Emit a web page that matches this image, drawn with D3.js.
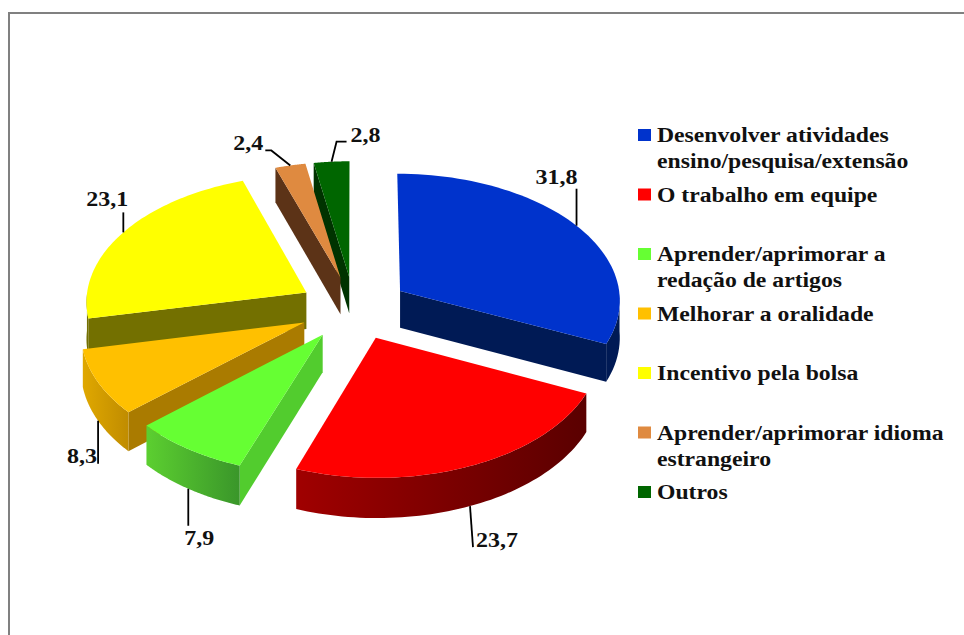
<!DOCTYPE html>
<html><head><meta charset="utf-8">
<script src="https://cdnjs.cloudflare.com/ajax/libs/d3/7.8.5/d3.min.js"></script>
<style>html,body{margin:0;padding:0;background:#fff}svg{display:block}
text{font-family:"Liberation Serif",serif;font-weight:bold;fill:#111}</style>
</head><body><svg id="c" width="964" height="635"></svg>
<script>
// Data
const categories = ["Desenvolver atividades\nensino/pesquisa/extensão","O trabalho em equipe","Aprender/aprimorar a\nredação de artigos","Melhorar a oralidade","Incentivo pela bolsa","Aprender/aprimorar idioma\nestrangeiro","Outros"];
const values = [31.8,23.7,7.9,8.3,23.1,2.4,2.8];
const valueLabels = ["31,8","23,7","7,9","8,3","23,1","2,4","2,8"];
// Styling
const topColors = ["#0033CC","#FF0000","#66FF33","#FFC000","#FFFF00","#DF8A40","#006600"];
const wallColors = ["#001A55","#660000","#52CC2E","#AA7B00","#737000","#5C3317","#003300"];
const rimLight = ["#001A55","#A00000","#5CCF30","#E0A800","#737000","#5C3317","#003300"];
const rimDark = ["#001A55","#5A0000","#3A962A","#C08C00","#737000","#5C3317","#003300"];
const explode = 0.25;
const leaderOffsets = [[[0,-37]],[[3,41]],[[0,37]],[[0,43]],[[0,-20]],[[-19,-15],[-25,-15]],[[5,-20],[15,-20]]];
const labelOffsets = [[-20,-5],[24,0],[11,19],[-16,-1],[-16,-6],[-17,0],[19,0]];

const svg = d3.select("#c");
// frame
svg.append("rect").attr("x",9).attr("y",13).attr("width",1000).attr("height",700).attr("fill","#fff").attr("stroke","#808080").attr("stroke-width",2);

// 3D projection
const cx=354, cy=308, R=221, K=127, P=0.065, depth=37;
const persp = v => 1/(1-P*v);
const project = (u,v,z=0) => { const s=persp(v); return [cx+R*u*s, cy+K*v*s+z*s]; };
const dirOf = a => [Math.sin(a),-Math.cos(a)];
const pie = d3.pie().sort(null).startAngle(0).endAngle(2*Math.PI);
const arcs = pie(values);
const line = d3.line();
const defs = svg.append("defs");

const slices = arcs.map((a,i)=>{
  const mid=(a.startAngle+a.endAngle)/2, d=dirOf(mid);
  const ox=d[0]*explode, oy=d[1]*explode;
  const pt=(ang,r,z)=>{const e=dirOf(ang);return project(ox+e[0]*r,oy+e[1]*r,z?depth:0);};
  return {i,a,mid,pt};
});
slices.sort((p,q)=>(-Math.cos(p.mid))-(-Math.cos(q.mid)));

slices.forEach(s=>{
  const {i,a,pt}=s; const n=60;
  const angs=d3.range(n+1).map(t=>a.startAngle+(a.endAngle-a.startAngle)*t/n);
  const g=svg.append("g");
  // radial walls
  const wall=(ang)=>g.append("path").attr("d",line([pt(ang,0,0),pt(ang,1,0),pt(ang,1,1),pt(ang,0,1)])+"Z").attr("fill",wallColors[i]);
  if(Math.sin(a.startAngle)<-1e-6) wall(a.startAngle);
  if(Math.sin(a.endAngle)>1e-6) wall(a.endAngle);
  // outer rim (front half only)
  const rim=angs.filter(t=>Math.cos(t)<=0);
  if(rim.length>1){
    const front=rim.map(t=>pt(t,1,0)), back=rim.map(t=>pt(t,1,1)).reverse();
    const xs=front.map(p=>p[0]);
    const id="rim"+i;
    const gr=defs.append("linearGradient").attr("id",id).attr("gradientUnits","userSpaceOnUse")
      .attr("x1",d3.min(xs)).attr("x2",d3.max(xs)).attr("y1",0).attr("y2",0);
    gr.append("stop").attr("offset",0).attr("stop-color",rimLight[i]);
    gr.append("stop").attr("offset",1).attr("stop-color",rimDark[i]);
    g.append("path").attr("d",line(front.concat(back))+"Z").attr("fill",`url(#${id})`);
  }
  // top face
  const top=[pt(0,0,0)].concat(angs.map(t=>pt(t,1,0)));
  g.append("path").attr("d",line(top)+"Z").attr("fill",topColors[i]);
});

// value labels and leaders
const stretch=1.2, legendStretch=1.185;
slices.forEach(s=>{
  const {i,mid,pt}=s;
  const anchor=pt(mid,1,Math.cos(mid)<0);
  const pts=[anchor].concat(leaderOffsets[i].map(o=>[anchor[0]+o[0],anchor[1]+o[1]]));
  svg.append("path").attr("d",line(pts)).attr("fill","none").attr("stroke","#000").attr("stroke-width",1.8);
  const end=pts[pts.length-1];
  svg.append("text").attr("transform",`translate(${end[0]+labelOffsets[i][0]},${end[1]+labelOffsets[i][1]}) scale(${stretch},1)`)
    .attr("text-anchor","middle").attr("font-size",20).text(valueLabels[i]);
});

// legend
const legendY=d3.scaleLinear().domain([0,categories.length-1]).range([135,492]);
const legend=svg.append("g");
categories.forEach((c,i)=>{
  const y=legendY(i);
  legend.append("rect").attr("x",638).attr("y",y-6).attr("width",13).attr("height",12).attr("fill",topColors[i]);
  c.split("\n").forEach((t,j)=>{
    legend.append("text").attr("transform",`translate(657,${y+7+j*26}) scale(${legendStretch},1)`).attr("font-size",20).text(t);
  });
});
</script></body></html>
